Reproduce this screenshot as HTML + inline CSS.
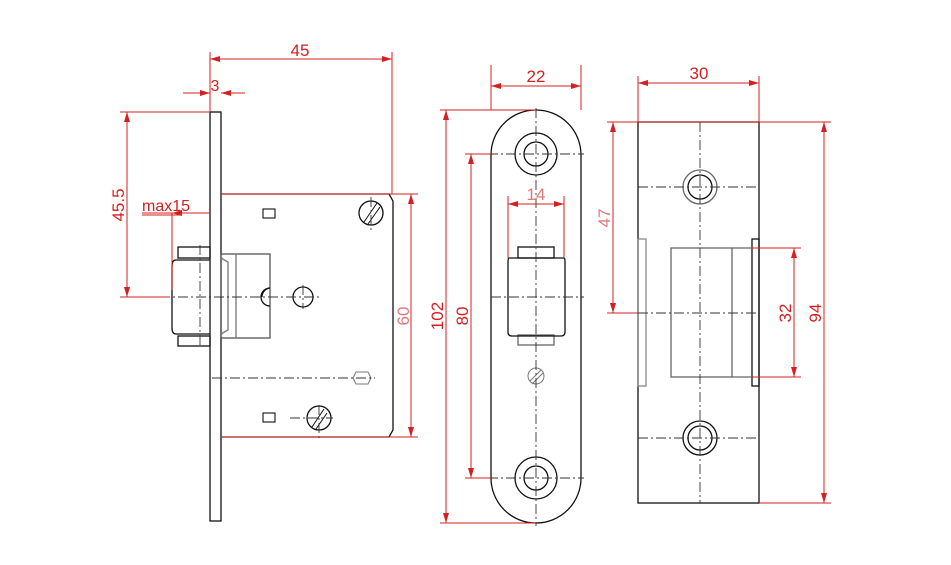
<!DOCTYPE html>
<html><head><meta charset="utf-8"><style>
html,body{margin:0;padding:0;background:#fff;}
svg{display:block}
text{font-family:"Liberation Sans",sans-serif;}
</style></head><body>
<svg width="951" height="565" viewBox="0 0 951 565" xmlns="http://www.w3.org/2000/svg">
<defs>
<marker id="a" viewBox="0 0 10 6" refX="10" refY="3" markerWidth="10" markerHeight="6" orient="auto-start-reverse" markerUnits="userSpaceOnUse"><path d="M0,0 L10,3 L0,6 z" fill="#d42020"/></marker>
</defs>
<rect width="951" height="565" fill="#fff"/>

<!-- ===== LEFT VIEW ===== -->
<g stroke="#111" fill="none" stroke-width="1.3">
<rect x="210" y="112" width="11" height="409"/>
<path d="M221,194 H389 L393,201 V430 L389,437 H221"/>
<!-- bolt -->
<rect x="178" y="247" width="32" height="11"/>
<rect x="178" y="336" width="32" height="10"/>
<path d="M210,260 H176 Q172,260 172,266 V328 Q172,334 176,334 H210"/>
<rect x="221" y="254" width="49" height="84" stroke="#555"/>
<path d="M221,258 L228,262 V330 L221,334" stroke="#777"/>
<line x1="236" y1="254" x2="236" y2="338" stroke="#777"/>
<path d="M270,288 A9,9 0 0 0 270,306 M270,288 A9,9 0 0 0 262,297" />
<circle cx="303" cy="297" r="10"/>
<rect x="263" y="209" width="12" height="9" stroke-width="1.1"/>
<rect x="263" y="413" width="12" height="9" stroke-width="1.1"/>
<circle cx="371" cy="213" r="12"/>
<circle cx="319" cy="418" r="12"/>
<path d="M364,222 L377,203 M368,224 L380,207 M312,427 L324,409 M316,429 L327,413" stroke-width="1"/>
<path d="M356,372 h12 l3,6 l-3,6 h-12 l-3,-6 z" stroke="#777" stroke-width="1"/>
</g>
<g stroke="#333" stroke-width="0.9" stroke-dasharray="10,3,2,3" fill="none">
<line x1="160" y1="297" x2="322" y2="297"/>
<line x1="200" y1="245" x2="200" y2="348"/>
<line x1="212" y1="378" x2="375" y2="378"/>
<line x1="303" y1="285" x2="303" y2="309"/>
<line x1="371" y1="197" x2="371" y2="232"/>
<line x1="290" y1="418" x2="333" y2="418"/>
<line x1="319" y1="405" x2="319" y2="440"/>
</g>
<!-- left dims -->
<g stroke="#d42020" stroke-width="1" fill="none">
<line x1="210" y1="52" x2="210" y2="112"/>
<line x1="392" y1="52" x2="392" y2="194"/>
<line x1="210" y1="59" x2="392" y2="59" marker-start="url(#a)" marker-end="url(#a)"/>
<line x1="183" y1="93" x2="210" y2="93" marker-end="url(#a)"/>
<line x1="245" y1="93" x2="221" y2="93" marker-end="url(#a)"/>
<line x1="120" y1="112" x2="210" y2="112"/>
<line x1="120" y1="297" x2="170" y2="297"/>
<line x1="127" y1="112" x2="127" y2="297" marker-start="url(#a)" marker-end="url(#a)"/>
<line x1="142" y1="213" x2="210" y2="213"/>
<line x1="142" y1="215" x2="180" y2="215"/>
<line x1="172" y1="213" x2="172" y2="290"/>
<line x1="172" y1="213" x2="196" y2="213" marker-start="url(#a)"/>
<line x1="221" y1="194" x2="418" y2="194"/>
<line x1="221" y1="437" x2="418" y2="437"/>
<line x1="411" y1="194" x2="411" y2="437" marker-start="url(#a)" marker-end="url(#a)"/>
</g>
<g fill="#d42020" font-size="17">
<text x="300" y="56" text-anchor="middle">45</text>
<text x="215" y="91" text-anchor="middle" font-size="16">3</text>
<text x="142" y="211" font-size="16">max15</text>
<text transform="translate(124,205) rotate(-90)" text-anchor="middle">45.5</text>
<text transform="translate(409,316) rotate(-90)" text-anchor="middle" fill="#e07a7a">60</text>
</g>

<!-- ===== MIDDLE VIEW ===== -->
<g stroke="#111" fill="none" stroke-width="1.3">
<rect x="491" y="110" width="90" height="413" rx="45" ry="45"/>
<circle cx="536" cy="154" r="21"/><circle cx="536" cy="154" r="12"/>
<circle cx="536" cy="478" r="21"/><circle cx="536" cy="478" r="12"/>
<rect x="518" y="247" width="36" height="11"/>
<rect x="518" y="335" width="36" height="10" stroke="#666"/>
<path d="M509,258 H564 Q565,258 565,262 V332 Q565,336 561,336 H512 Q508,336 508,332 V262 Q508,258 509,258 Z"/>
<circle cx="536" cy="376" r="8" stroke="#777" stroke-width="1"/>
<path d="M530,381 L541,370 M532,384 L543,373" stroke="#777" stroke-width="1"/>
</g>
<g stroke="#333" stroke-width="0.9" stroke-dasharray="10,3,2,3" fill="none">
<line x1="536" y1="108" x2="536" y2="526"/>
<line x1="470" y1="154" x2="584" y2="154"/>
<line x1="470" y1="478" x2="584" y2="478"/>
<line x1="491" y1="297" x2="584" y2="297"/>
</g>
<g stroke="#d42020" stroke-width="1" fill="none">
<line x1="491" y1="65" x2="491" y2="110"/>
<line x1="581" y1="65" x2="581" y2="110"/>
<line x1="491" y1="86" x2="581" y2="86" marker-start="url(#a)" marker-end="url(#a)"/>
<line x1="440" y1="110" x2="536" y2="110"/>
<line x1="440" y1="523" x2="536" y2="523"/>
<line x1="446" y1="110" x2="446" y2="523" marker-start="url(#a)" marker-end="url(#a)"/>
<line x1="465" y1="154" x2="491" y2="154"/>
<line x1="465" y1="478" x2="491" y2="478"/>
<line x1="471" y1="154" x2="471" y2="478" marker-start="url(#a)" marker-end="url(#a)"/>
<line x1="508" y1="196" x2="508" y2="258"/>
<line x1="564" y1="196" x2="564" y2="258"/>
<line x1="508" y1="204" x2="564" y2="204" marker-start="url(#a)" marker-end="url(#a)"/>
</g>
<g fill="#d42020" font-size="17">
<text x="536" y="82" text-anchor="middle">22</text>
<text x="536" y="200" text-anchor="middle" fill="#e07a7a">14</text>
<text transform="translate(443,316) rotate(-90)" text-anchor="middle">102</text>
<text transform="translate(468,316) rotate(-90)" text-anchor="middle">80</text>
</g>

<!-- ===== RIGHT VIEW ===== -->
<g stroke="#111" fill="none" stroke-width="1.3">
<rect x="638" y="122" width="121" height="381"/>
<rect x="638" y="239" width="8" height="147" stroke="#888"/>
<rect x="752" y="239" width="7" height="147"/>
<rect x="671" y="248" width="61" height="129" stroke="#666"/>
<line x1="732" y1="248" x2="752" y2="248" stroke="#666"/>
<line x1="732" y1="377" x2="752" y2="377" stroke="#666"/>
<circle cx="700" cy="187" r="17" stroke="#666"/><circle cx="700" cy="187" r="12"/>
<circle cx="700" cy="438" r="17"/><circle cx="700" cy="438" r="12"/>
</g>
<g stroke="#333" stroke-width="0.9" stroke-dasharray="10,3,2,3" fill="none">
<line x1="700" y1="122" x2="700" y2="503"/>
<line x1="638" y1="187" x2="759" y2="187"/>
<line x1="638" y1="438" x2="759" y2="438"/>
<line x1="638" y1="313" x2="759" y2="313"/>
</g>
<g stroke="#d42020" stroke-width="1" fill="none">
<line x1="638" y1="76" x2="638" y2="122"/>
<line x1="759" y1="76" x2="759" y2="122"/>
<line x1="638" y1="83" x2="759" y2="83" marker-start="url(#a)" marker-end="url(#a)"/>
<line x1="607" y1="122" x2="831" y2="122"/>
<line x1="759" y1="503" x2="831" y2="503"/>
<line x1="607" y1="313" x2="638" y2="313"/>
<line x1="613" y1="122" x2="613" y2="313" marker-start="url(#a)" marker-end="url(#a)"/>
<line x1="752" y1="248" x2="801" y2="248"/>
<line x1="752" y1="377" x2="801" y2="377"/>
<line x1="794" y1="248" x2="794" y2="377" marker-start="url(#a)" marker-end="url(#a)"/>
<line x1="824" y1="122" x2="824" y2="503" marker-start="url(#a)" marker-end="url(#a)"/>
</g>
<g fill="#d42020" font-size="17">
<text x="699" y="79" text-anchor="middle">30</text>
<text transform="translate(610,218) rotate(-90)" text-anchor="middle" fill="#e07a7a">47</text>
<text transform="translate(791,313) rotate(-90)" text-anchor="middle">32</text>
<text transform="translate(821,313) rotate(-90)" text-anchor="middle">94</text>
</g>
</svg>
</body></html>
